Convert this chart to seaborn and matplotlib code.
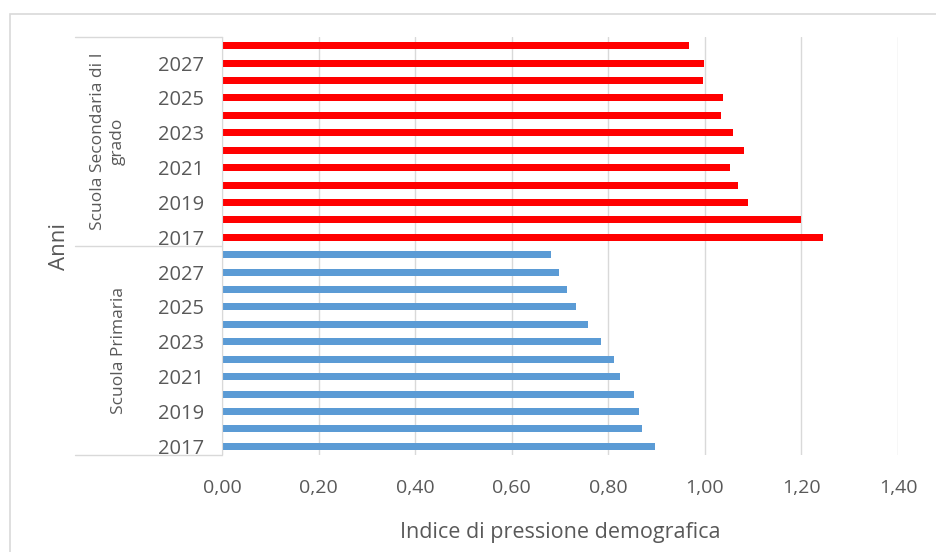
import matplotlib
matplotlib.use("Agg")
import matplotlib.pyplot as plt
import seaborn as sns
import pandas as pd
from matplotlib.ticker import FuncFormatter

years = [2017, 2018, 2019, 2020, 2021, 2022, 2023, 2024, 2025, 2026, 2027, 2028]
primaria = [0.896, 0.870, 0.864, 0.854, 0.824, 0.811, 0.784, 0.759, 0.734, 0.715, 0.697, 0.682]
secondaria = [1.244, 1.199, 1.089, 1.069, 1.052, 1.082, 1.059, 1.034, 1.037, 0.997, 0.999, 0.967]
groups = ["Scuola Primaria", "Scuola Secondaria di I grado"]
group_labels = ["Scuola Primaria", "Scuola Secondaria di I\ngrado"]
colors = ["#5B9BD5", "#FF0000"]
x_ticks = [0.0, 0.2, 0.4, 0.6, 0.8, 1.0, 1.2, 1.4]
x_label = "Indice di pressione demografica"
y_label = "Anni"

rows = []
for g, vals in zip(groups, [primaria, secondaria]):
    for y, v in zip(years, vals):
        rows.append({"key": f"{g}|{y}", "group": g, "year": y, "value": v})
df = pd.DataFrame(rows)
# top to bottom order
order = [f"{groups[1]}|{y}" for y in reversed(years)] + [f"{groups[0]}|{y}" for y in reversed(years)]

sns.set_style("white")
plt.rcParams["font.family"] = ["Open Sans", "DejaVu Sans"]
txt = "#595959"

fig = plt.figure(figsize=(9.36, 5.52), dpi=100)
ax = fig.add_axes([222/936, 1 - 455/552, (898-222)/936, (455-37)/552])

sns.barplot(data=df, y="key", x="value", hue="group", order=order,
            hue_order=groups, palette=colors, dodge=False, width=0.4,
            orient="h", ax=ax, legend=False, linewidth=0, saturation=1)

ax.set_xlim(0, 1.4)
ax.set_ylim(len(order) - 0.5, -0.5)
ax.set_xticks(x_ticks)
ax.xaxis.set_major_formatter(FuncFormatter(lambda v, p: f"{v:.2f}".replace(".", ",")))
ax.grid(axis="x", color="#D9D9D9", linewidth=1)
ax.set_axisbelow(True)
labels = []
for k in order:
    y = int(k.split("|")[1])
    labels.append(str(y) if y % 2 == 1 else "")
ax.set_yticks(range(len(order)))
ax.set_yticklabels(labels)
ax.tick_params(axis="y", length=0, pad=13, labelsize=14.5, labelcolor=txt)
ax.tick_params(axis="x", length=0, pad=17, labelsize=14, labelcolor=txt)
for s in ["top", "right", "bottom"]:
    ax.spines[s].set_visible(False)
ax.spines["left"].set_color("#D9D9D9")
ax.set_ylabel("")
ax.set_xlabel(x_label, fontsize=15.5, color=txt, labelpad=18)

# category group separators
x0 = (75 - 222) / (898 - 222)
for yf in [1.0, 0.5, 0.0]:
    ax.plot([x0, 0], [yf, yf], transform=ax.transAxes, color="#D9D9D9", lw=1, clip_on=False)
ax.text((108 - 222) / (898 - 222), 0.75, group_labels[1], transform=ax.transAxes,
        rotation=90, ha="center", va="center", fontsize=12.5, color=txt, linespacing=1.35)
ax.text((119 - 222) / (898 - 222), 0.25, group_labels[0], transform=ax.transAxes,
        rotation=90, ha="center", va="center", fontsize=12.5, color=txt)
fig.text(60/936, 1 - 247/552, y_label, rotation=90, ha="center", va="center", fontsize=16, color=txt)

# outer chart border
fig.add_artist(plt.Rectangle((10/936, -0.1), 1.2, 1 - 14/552 + 0.1, transform=fig.transFigure,
                             fill=False, edgecolor="#D9D9D9", lw=1.2))

fig.savefig("out.png", dpi=100)
